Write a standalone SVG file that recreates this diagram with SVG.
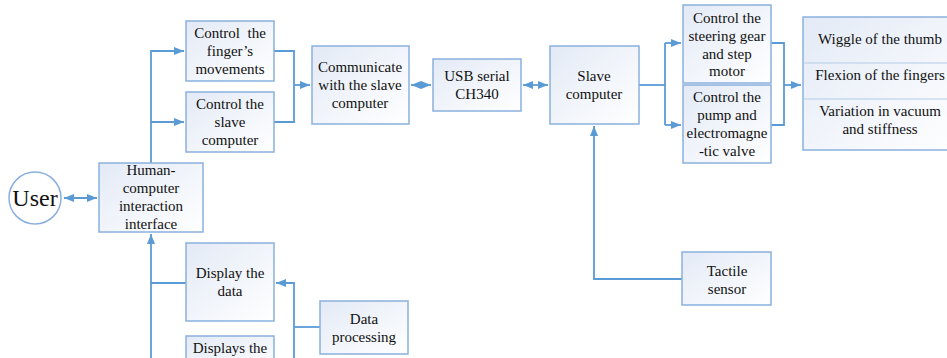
<svg xmlns="http://www.w3.org/2000/svg" width="947" height="358" viewBox="0 0 947 358">
<defs>
<linearGradient id="g" x1="0" y1="0" x2="1" y2="1">
<stop offset="0" stop-color="#E3EAF6"/>
<stop offset="1" stop-color="#FFFFFF"/>
</linearGradient>
<marker id="a" viewBox="0 0 10 8" refX="10" refY="4" markerWidth="10" markerHeight="8" markerUnits="userSpaceOnUse" orient="auto-start-reverse">
<path d="M0,0 L10,4 L0,8 z" fill="#5B9BD5"/>
</marker>
</defs>
<style>
.b{fill:url(#g);stroke:#8AB0DD;stroke-width:1.5}
.t{font-family:'Liberation Serif','Tinos','Times New Roman','DejaVu Serif',serif;font-size:15px;fill:#111;text-anchor:middle}
.c{fill:none;stroke:#5B9BD5;stroke-width:1.8}
</style>
<rect width="947" height="358" fill="#fff"/>
<g id="connectors">
<path class="c" d="M64,198 H97" marker-start="url(#a)" marker-end="url(#a)"/>
<path class="c" d="M151,163 V51 H184" marker-end="url(#a)"/>
<path class="c" d="M151,122 H184" marker-end="url(#a)"/>
<path class="c" d="M274,51 H294 V122 H274"/>
<path class="c" d="M294,85 H310" marker-end="url(#a)"/>
<path class="c" d="M411,85 H431" marker-start="url(#a)" marker-end="url(#a)"/>
<path class="c" d="M523,85 H548" marker-start="url(#a)" marker-end="url(#a)"/>
<path class="c" d="M639,85 H665"/>
<path class="c" d="M665,43 V125"/>
<path class="c" d="M665,43 H681" marker-end="url(#a)"/>
<path class="c" d="M665,125 H681" marker-end="url(#a)"/>
<path class="c" d="M771,43 H784 V125 H771"/>
<path class="c" d="M784,85 H801" marker-end="url(#a)"/>
<path class="c" d="M682,279 H594 V126" marker-end="url(#a)"/>
<path class="c" d="M151,358 V234" marker-end="url(#a)"/>
<path class="c" d="M151,283 H186"/>
<path class="c" d="M320,327 H294"/>
<path class="c" d="M294,358 V283 H276" marker-end="url(#a)"/>
</g>
<g font-family="Liberation Serif, Tinos, Times New Roman, DejaVu Serif, serif">
<g id="user">
<circle cx="35" cy="198" r="26" fill="#fff" stroke="#8AB0DD" stroke-width="1.5"/>
<text class="t" x="35" y="206" style="font-size:24px">User</text>
</g>
<g id="hci">
<rect class="b" x="99" y="163" width="104" height="69"/>
<text class="t" x="151" y="175">Human-</text>
<text class="t" x="151" y="193">computer</text>
<text class="t" x="151" y="211">interaction</text>
<text class="t" x="151" y="229">interface</text>
</g>
<g id="finger">
<rect class="b" x="186" y="21" width="88" height="60"/>
<text class="t" x="230" y="38" xml:space="preserve">Control  the</text>
<text class="t" x="230" y="56">finger’s</text>
<text class="t" x="230" y="74">movements</text>
</g>
<g id="ctrl-slave">
<rect class="b" x="186" y="92" width="88" height="60"/>
<text class="t" x="230" y="109">Control the</text>
<text class="t" x="230" y="127">slave</text>
<text class="t" x="230" y="145">computer</text>
</g>
<g id="display-data">
<rect class="b" x="186" y="243" width="88" height="78"/>
<text class="t" x="230" y="278">Display the</text>
<text class="t" x="230" y="296">data</text>
</g>
<g id="displays">
<rect class="b" x="186" y="336" width="88" height="40"/>
<text class="t" x="230" y="353">Displays the</text>
</g>
<g id="data-processing">
<rect class="b" x="320" y="301" width="88" height="53"/>
<text class="t" x="364" y="324">Data</text>
<text class="t" x="364" y="342">processing</text>
</g>
<g id="communicate">
<rect class="b" x="312" y="46" width="97" height="78"/>
<text class="t" x="360" y="72">Communicate</text>
<text class="t" x="360" y="90">with the slave</text>
<text class="t" x="360" y="108">computer</text>
</g>
<g id="usb">
<rect class="b" x="433" y="59" width="88" height="52"/>
<text class="t" x="477" y="81">USB serial</text>
<text class="t" x="477" y="99">CH340</text>
</g>
<g id="slave">
<rect class="b" x="550" y="46" width="89" height="78"/>
<text class="t" x="594" y="81">Slave</text>
<text class="t" x="594" y="99">computer</text>
</g>
<g id="steering">
<rect class="b" x="683" y="5" width="88" height="78"/>
<text class="t" x="727" y="23">Control the</text>
<text class="t" x="727" y="41">steering gear</text>
<text class="t" x="727" y="59">and step</text>
<text class="t" x="727" y="76">motor</text>
</g>
<g id="pump">
<rect class="b" x="683" y="85" width="88" height="78"/>
<text class="t" x="727" y="102">Control the</text>
<text class="t" x="727" y="120">pump and</text>
<text class="t" x="727" y="138">electromagne</text>
<text class="t" x="727" y="156">-tic valve</text>
</g>
<g id="tactile">
<rect class="b" x="682" y="252" width="89" height="53"/>
<text class="t" x="727" y="276">Tactile</text>
<text class="t" x="727" y="294">sensor</text>
</g>
<g id="results">
<rect class="b" x="803" y="17" width="160" height="133"/>
<line x1="803" y1="63" x2="947" y2="63" stroke="#B4CBE8" stroke-width="1"/>
<line x1="803" y1="99" x2="947" y2="99" stroke="#B4CBE8" stroke-width="1"/>
<text class="t" x="880" y="44">Wiggle of the thumb</text>
<text class="t" x="880" y="80">Flexion of the fingers</text>
<text class="t" x="880" y="116">Variation in vacuum</text>
<text class="t" x="880" y="134">and stiffness</text>
</g>
</g>
</svg>
